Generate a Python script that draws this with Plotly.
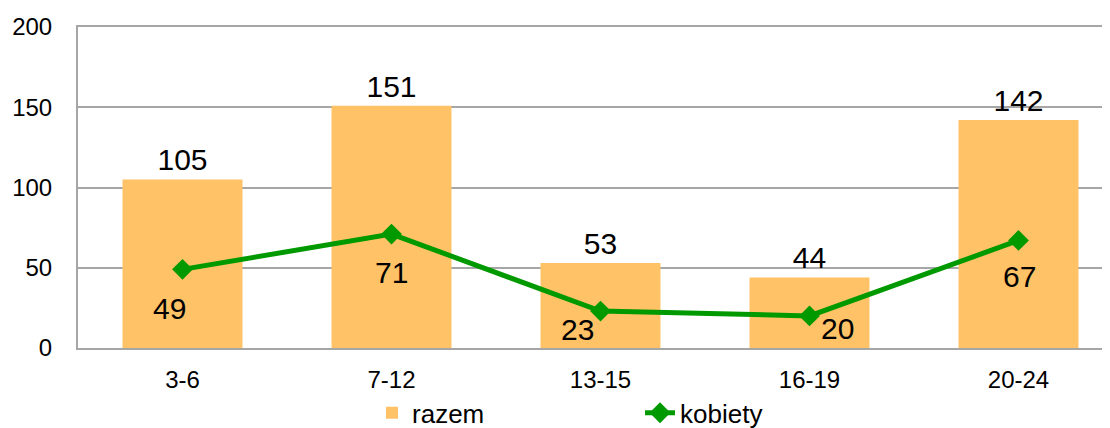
"""Wykres slupkowo-liniowy: razem vs kobiety wg grup wieku."""

import plotly.graph_objects as go

# dane
GRUPY = ["3-6", "7-12", "13-15", "16-19", "20-24"]
RAZEM = [105, 151, 53, 44, 142]
KOBIETY = [49, 71, 23, 20, 67]

# przesuniecia etykiet linii (px) - jak w oryginale
LBL_DX = [-13, 0, -23, 28, 1]
LBL_DY = [-39, -38, -18, -13, -36]

BAR_COLOR = "#FFC266"
LINE_COLOR = "#009A00"
GRID = "#A6A6A6"
FONT = "Liberation Sans, Arial, sans-serif"

# strona ma 8px marginesu body, wiec obszar wykresu przesuwam o 8px
PLOT_W = 1040

fig = go.Figure()
fig.add_trace(
    go.Bar(
        x=GRUPY,
        y=RAZEM,
        name="razem",
        marker=dict(color=BAR_COLOR, line=dict(width=0)),
        width=0.574,
        text=[str(v) for v in RAZEM],
        textposition="outside",
        textfont=dict(size=30, color="#000000", family=FONT),
        cliponaxis=False,
    )
)
fig.add_trace(
    go.Scatter(
        x=GRUPY,
        y=KOBIETY,
        name="kobiety",
        mode="lines+markers",
        line=dict(color=LINE_COLOR, width=5),
        marker=dict(symbol="diamond", size=16, color=LINE_COLOR),
        cliponaxis=False,
    )
)

for g, v, dx, dy in zip(GRUPY, KOBIETY, LBL_DX, LBL_DY):
    fig.add_annotation(
        x=g, y=v, text=str(v), showarrow=False,
        xshift=dx, yshift=dy,
        font=dict(size=30, color="#000000", family=FONT),
    )

fig.update_layout(
    width=1110,
    height=428,
    margin=dict(l=70, r=0, t=19, b=88, autoexpand=False),
    paper_bgcolor="white",
    plot_bgcolor="white",
    font=dict(family=FONT, size=24, color="#000000"),
    showlegend=True,
    legend=dict(
        orientation="h",
        x=0.2827,
        xanchor="left",
        y=-0.202,
        yanchor="middle",
        entrywidth=223,
        font=dict(size=26),
        bgcolor="rgba(0,0,0,0)",
    ),
)
fig.update_xaxes(
    range=[-0.5, -0.5 + PLOT_W / 209],
    showgrid=False,
    showline=True,
    mirror=True,
    linecolor=GRID,
    linewidth=2,
    ticks="",
    ticklabelstandoff=9,
    tickfont=dict(size=24),
    automargin=False,
)
fig.update_yaxes(
    range=[0, 200],
    dtick=50,
    showgrid=True,
    gridcolor=GRID,
    gridwidth=2,
    showline=True,
    linecolor=GRID,
    linewidth=2,
    ticks="",
    ticklabelstandoff=19,
    tickfont=dict(size=24),
    zeroline=False,
    automargin=False,
)

fig.write_html("out.html")
